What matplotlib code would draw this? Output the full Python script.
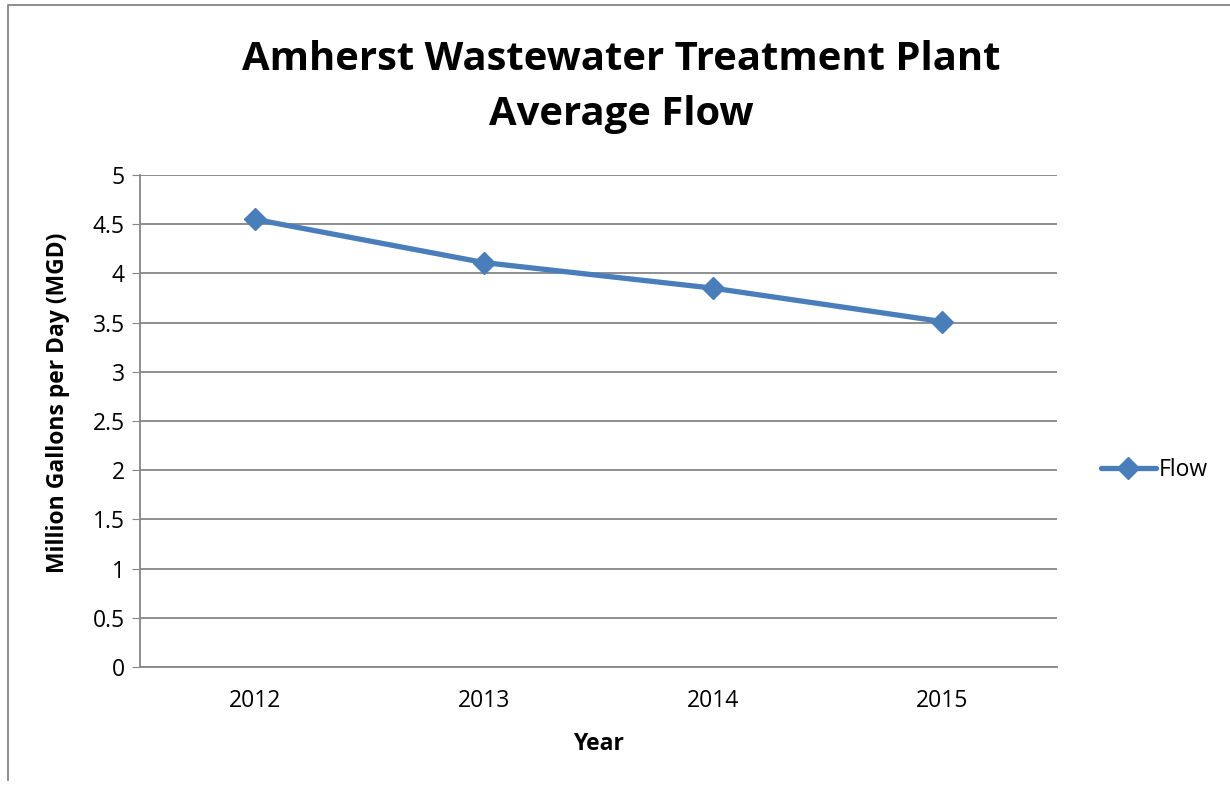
import matplotlib.pyplot as plt
from matplotlib.lines import Line2D

years = ['2012', '2013', '2014', '2015']
flow = [4.55, 4.11, 3.85, 3.51]
yticks = [0, 0.5, 1, 1.5, 2, 2.5, 3, 3.5, 4, 4.5, 5]
ytick_labels = ['0', '0.5', '1', '1.5', '2', '2.5', '3', '3.5', '4', '4.5', '5']

plt.rcParams['font.family'] = ['Open Sans', 'DejaVu Sans']
blue = '#4A7EBB'
gray = '#868686'

fig = plt.figure(figsize=(12.3, 7.89), dpi=100)
ax = fig.add_axes([140/1230, 1 - 667/789, (1057-140)/1230, (667-175)/789])

x = range(len(years))
ax.plot(x, flow, color=blue, lw=3.8, marker='D', ms=11, label='Flow',
        solid_capstyle='round')
ax.set_xlim(-0.5, len(years) - 0.5)
ax.set_ylim(0, 5)
ax.set_xticks(list(x))
ax.set_xticklabels(years, fontsize=16.5)
ax.set_yticks(yticks)
ax.set_yticklabels(ytick_labels, fontsize=16.5)
ax.tick_params(axis='x', length=0, pad=16)
ax.tick_params(axis='y', length=6, color=gray, pad=5)
ax.grid(axis='y', color=gray, lw=1.3)
ax.set_axisbelow(True)
for s in ['top', 'right']:
    ax.spines[s].set_visible(False)
for s in ['left', 'bottom']:
    ax.spines[s].set_color(gray)
    ax.spines[s].set_linewidth(1.3)

ax.set_xlabel('Year', fontsize=16.5, fontweight='bold')
ax.set_ylabel('Million Gallons per Day (MGD)', fontsize=16.5, fontweight='bold')
ax.xaxis.set_label_coords(0.5, -(732 - 667) / 492)
ax.yaxis.set_label_coords(-(140 - 70) / 917, (667 - 403) / 492)

fig.text(0.505, 1 - 60/789, 'Amherst Wastewater Treatment Plant', ha='center', va='center',
         fontsize=28.8, fontweight='bold')
fig.text(0.505, 1 - 114/789, 'Average Flow', ha='center', va='center',
         fontsize=28.8, fontweight='bold')

ax.legend(loc='center left', bbox_to_anchor=(1.025, 0.4), frameon=False, fontsize=16.5,
          handlelength=2.4, handletextpad=0.15)

# outer chart border (top and left visible)
fig.add_artist(Line2D([8/1230, 8/1230, 1], [1 - 780/789, 1 - 5/789, 1 - 5/789],
                      transform=fig.transFigure, color=gray, lw=1.3))

fig.savefig('out.png', dpi=100)
